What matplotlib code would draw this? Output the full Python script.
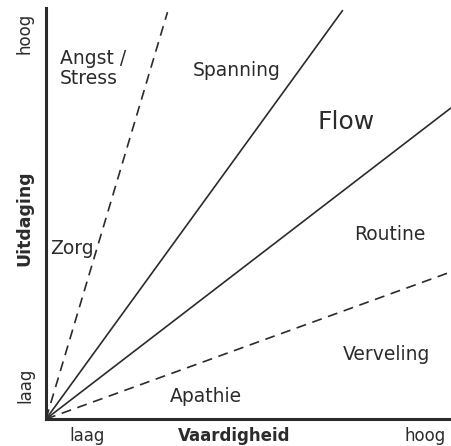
import matplotlib

matplotlib.use("Agg")
import matplotlib.pyplot as plt

# line end points (skill on x, challenge on y), all lines start at origin
solid_ends = [(7.33, 9.95), (10.0, 7.57)]
dashed_ends = [(3.0, 9.9), (10.0, 3.58)]

# zone labels
zone_labels = ["Angst /\nStress", "Spanning", "Flow", "Zorg", "Routine", "Verveling", "Apathie"]
zone_x = [0.35, 4.70, 7.42, 0.64, 8.49, 8.40, 3.96]
zone_y = [8.53, 8.49, 7.23, 4.14, 4.48, 1.58, 0.54]
zone_size = [13.5, 13.5, 18, 13.5, 13.5, 13.5, 13.5]
zone_ha = ["left", "center", "center", "center", "center", "center", "center"]

ink = "#2b2b2b"

fig = plt.figure(figsize=(4.51, 4.46), dpi=100)
ax = fig.add_axes([0.102, 0.0605, 0.898, 0.9215])
ax.set_xlim(0, 10)
ax.set_ylim(0, 10)

for x1, y1 in solid_ends:
    ax.plot([0, x1], [0, y1], color=ink, linewidth=1.2, solid_capstyle="butt")
for x1, y1 in dashed_ends:
    ax.plot([0, x1], [0, y1], color=ink, linewidth=1.2, dashes=(6, 4))

for txt, x, y, fs, ha in zip(zone_labels, zone_x, zone_y, zone_size, zone_ha):
    ax.text(x, y, txt, fontsize=fs, color=ink, ha=ha, va="center",
            linespacing=1.05)

for side in ["top", "right"]:
    ax.spines[side].set_visible(False)
for side in ["left", "bottom"]:
    ax.spines[side].set_linewidth(2.2)
    ax.spines[side].set_color(ink)
ax.set_xticks([])
ax.set_yticks([])

# axis captions
fig.text(0.193, 0.022, "laag", fontsize=12, color=ink, ha="center", va="center")
fig.text(0.52, 0.022, "Vaardigheid", fontsize=12, color=ink, ha="center", va="center",
         fontweight="bold")
fig.text(0.942, 0.022, "hoog", fontsize=12, color=ink, ha="center", va="center")
fig.text(0.055, 0.926, "hoog", fontsize=12, color=ink, ha="center", va="center",
         rotation=90)
fig.text(0.053, 0.51, "Uitdaging", fontsize=12.5, color=ink, ha="center", va="center",
         rotation=90, fontweight="bold")
fig.text(0.057, 0.137, "laag", fontsize=12, color=ink, ha="center", va="center",
         rotation=90)

fig.savefig("out.png", dpi=100)
